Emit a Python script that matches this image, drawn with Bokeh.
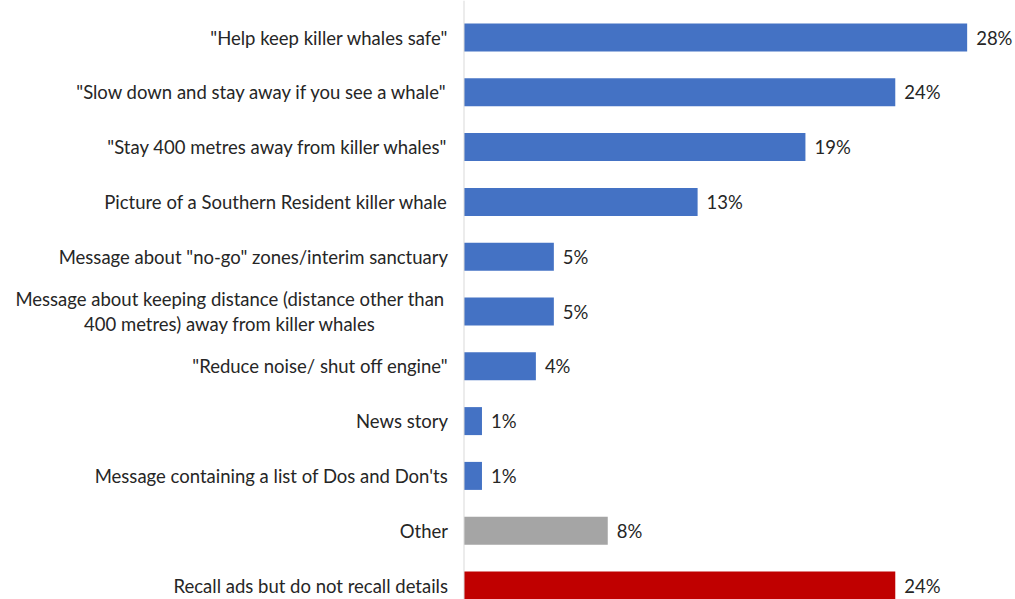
from bokeh.plotting import figure
from bokeh.models import ColumnDataSource, Range1d, Span
from bokeh.core.properties import value
from bokeh.embed import file_html
from bokeh.resources import INLINE

categories = [
    '"Help keep killer whales safe"',
    '"Slow down and stay away if you see a whale"',
    '"Stay 400 metres away from killer whales"',
    'Picture of a Southern Resident killer whale',
    'Message about "no-go" zones/interim sanctuary',
    'Message about keeping distance (distance other than\n400 metres) away from killer whales',
    '"Reduce noise/ shut off engine"',
    'News story',
    "Message containing a list of Dos and Don'ts",
    'Other',
    'Recall ads but do not recall details',
]
values = [28, 24, 19, 13, 5, 5, 4, 1, 1, 8, 24]
colors = ["#4472C4"] * 9 + ["#A5A5A5", "#C00000"]

pos = list(range(len(categories)))
single = [c if "\n" not in c else "" for c in categories]
multi = [c if "\n" in c else "" for c in categories]

src = ColumnDataSource(dict(
    y=pos, v=values, c=colors, cat=single, mcat=multi,
    lab=[f"{v}%" for v in values], zero=[0] * len(values),
))

W, H = 1015, 599
px_per = 17.97
axis_px = 463.5
pitch = 54.8
first = 37.0
p = figure(width=W, height=H, output_backend="svg", toolbar_location=None,
           x_range=Range1d(-axis_px / px_per, (W - axis_px) / px_per),
           y_range=Range1d((H - first) / pitch, -first / pitch),
           min_border_left=0, min_border_right=0, min_border_top=0, min_border_bottom=0)
p.axis.visible = False
p.grid.visible = False
p.outline_line_color = None

p.add_layout(Span(location=0, dimension="height", line_color="#D9D9D9", line_width=1))

p.hbar(y="y", left=0, right="v", height=28 / pitch, fill_color="c", line_color=None, source=src)

font = value("Lato")
fs = "18.5px"
p.text(x="v", y="y", text="lab", source=src, x_offset=9, text_align="left",
       text_baseline="middle", text_font=font, text_font_size=fs, text_color="#262626")
p.text(x="zero", y="y", text="cat", source=src, x_offset=-16, text_align="right",
       text_baseline="middle", text_font=font, text_font_size=fs, text_color="#262626")
p.text(x="zero", y="y", text="mcat", source=src, x_offset=-234, text_align="center",
       text_baseline="middle", text_font=font, text_font_size=fs, text_color="#262626",
       text_line_height=1.15)

open("out.html", "w").write(file_html(p, INLINE))
